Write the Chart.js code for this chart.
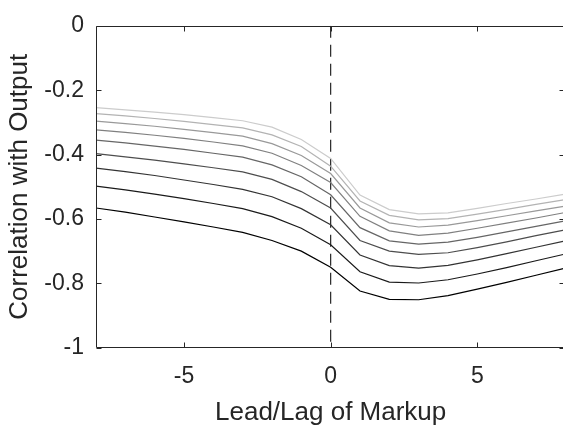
<!DOCTYPE html>
<html>
<head>
<meta charset="utf-8">
<script src="https://cdn.jsdelivr.net/npm/chart.js@4/dist/chart.umd.min.js"></script>
<style>
  html, body { margin: 0; padding: 0; background: #fff; overflow: hidden; }
  #wrap { width: 571px; height: 429px; }
</style>
</head>
<body>
<div id="wrap"><canvas id="c" width="571" height="429"></canvas></div>
<script>
// ---- data ----
const leadLag = [-8, -7, -6, -5, -4, -3, -2, -1, 0, 1, 2, 3, 4, 5, 6, 7, 8];

const series1 = [-0.254, -0.261, -0.268, -0.276, -0.285, -0.295, -0.315, -0.353, -0.412, -0.526, -0.571, -0.584, -0.581, -0.567, -0.552, -0.538, -0.523];
const series2 = [-0.273, -0.280, -0.288, -0.297, -0.307, -0.317, -0.339, -0.375, -0.436, -0.544, -0.589, -0.603, -0.599, -0.585, -0.570, -0.555, -0.540];
const series3 = [-0.296, -0.304, -0.312, -0.322, -0.332, -0.343, -0.366, -0.403, -0.459, -0.566, -0.612, -0.625, -0.619, -0.605, -0.590, -0.575, -0.560];
const series4 = [-0.323, -0.331, -0.340, -0.350, -0.361, -0.373, -0.396, -0.434, -0.487, -0.592, -0.637, -0.651, -0.644, -0.629, -0.613, -0.597, -0.580];
const series5 = [-0.355, -0.364, -0.374, -0.384, -0.396, -0.408, -0.432, -0.469, -0.525, -0.627, -0.668, -0.678, -0.672, -0.657, -0.640, -0.623, -0.606];
const series6 = [-0.397, -0.407, -0.417, -0.429, -0.441, -0.454, -0.477, -0.515, -0.566, -0.667, -0.700, -0.710, -0.705, -0.689, -0.671, -0.652, -0.634];
const series7 = [-0.442, -0.453, -0.465, -0.479, -0.493, -0.508, -0.531, -0.568, -0.618, -0.712, -0.745, -0.753, -0.744, -0.727, -0.708, -0.688, -0.668];
const series8 = [-0.498, -0.510, -0.523, -0.537, -0.552, -0.568, -0.593, -0.629, -0.680, -0.764, -0.796, -0.799, -0.789, -0.771, -0.751, -0.730, -0.709];
const series9 = [-0.566, -0.579, -0.594, -0.609, -0.625, -0.642, -0.667, -0.700, -0.750, -0.824, -0.850, -0.851, -0.838, -0.818, -0.797, -0.775, -0.753];

const allSeries = [series1, series2, series3, series4, series5, series6, series7, series8, series9];
const seriesColors = ['#cccccc', '#b3b3b3', '#999999', '#808080', '#666666', '#4d4d4d', '#333333', '#1a1a1a', '#000000'];

const zeroLineX = [0, 0];
const zeroLineY = [0, -1];

const xTickValues = [-5, 0, 5];
const xTickLabels = ['-5', '0', '5'];
const yTickValues = [-1, -0.8, -0.6, -0.4, -0.2, 0];
const yTickLabels = ['-1', '-0.8', '-0.6', '-0.4', '-0.2', '0'];

const xTitle = 'Lead/Lag of Markup';
const yTitle = 'Correlation with Output';

// ---- chart ----
const axisColor = '#262626';
const FONT = '"Liberation Sans", Arial, Helvetica, sans-serif';

const datasets = allSeries.map((s, i) => ({
  data: leadLag.map((x, j) => ({ x: x, y: s[j] })),
  borderColor: seriesColors[i],
  borderWidth: 1.2,
  pointRadius: 0,
  tension: 0,
  fill: false
}));
datasets.push({
  data: zeroLineX.map((x, j) => ({ x: x, y: zeroLineY[j] })),
  borderColor: axisColor,
  borderWidth: 1.2,
  borderDash: [12, 7],
  pointRadius: 0,
  fill: false
});

const boxPlugin = {
  id: 'box',
  afterDraw(chart) {
    const { ctx, chartArea: a, scales } = chart;
    const L = Math.round(a.left) + 0.5, R = Math.round(a.right) - 0.5;
    const T = Math.round(a.top) + 0.5, B = Math.round(a.bottom) - 0.5;
    ctx.save();
    ctx.strokeStyle = axisColor;
    ctx.lineWidth = 1;
    ctx.beginPath();
    ctx.moveTo(L, T); ctx.lineTo(R, T); ctx.lineTo(R, B); ctx.lineTo(L, B); ctx.closePath();
    const tl = 5;
    xTickValues.forEach(v => {
      const px = Math.round(scales.x.getPixelForValue(v)) + 0.5;
      ctx.moveTo(px, B); ctx.lineTo(px, B - tl);
      ctx.moveTo(px, T); ctx.lineTo(px, T + tl);
    });
    yTickValues.forEach(v => {
      const py = Math.round(scales.y.getPixelForValue(v)) + 0.5;
      ctx.moveTo(L, py); ctx.lineTo(L + tl, py);
      ctx.moveTo(R, py); ctx.lineTo(R - tl, py);
    });
    ctx.stroke();
    ctx.restore();
  }
};

new Chart(document.getElementById('c'), {
  type: 'line',
  data: { datasets },
  options: {
    responsive: false,
    animation: false,
    layout: { padding: { left: 0, top: 15.3, right: 5.7, bottom: 0 } },
    plugins: { legend: { display: false }, tooltip: { enabled: false } },
    scales: {
      x: {
        type: 'linear',
        min: -8, max: 8,
        grid: { display: false, drawTicks: false },
        border: { display: false },
        afterBuildTicks: (s) => { s.ticks = xTickValues.map(v => ({ value: v })); },
        afterFit: (s) => { s.height = 81.3; },
        ticks: {
          padding: 15,
          color: axisColor,
          font: { family: FONT, size: 23 },
          callback: (v) => xTickLabels[xTickValues.indexOf(v)],
          maxRotation: 0
        },
        title: {
          display: true, text: xTitle, color: axisColor,
          font: { family: FONT, size: 26 },
          padding: { top: 0, bottom: 1 }
        }
      },
      y: {
        type: 'linear',
        min: -1, max: 0,
        grid: { display: false, drawTicks: false },
        border: { display: false },
        afterBuildTicks: (s) => { s.ticks = yTickValues.map(v => ({ value: v })); },
        afterFit: (s) => { s.width = 96; },
        ticks: {
          padding: 12,
          labelOffset: 0,
          color: axisColor,
          font: { family: FONT, size: 23 },
          callback: (v) => yTickLabels[yTickValues.indexOf(v)]
        },
        title: {
          display: true, text: yTitle, color: axisColor,
          font: { family: FONT, size: 26 },
          padding: { top: 4, bottom: 0 }
        }
      }
    }
  },
  plugins: [boxPlugin]
});
</script>
</body>
</html>
